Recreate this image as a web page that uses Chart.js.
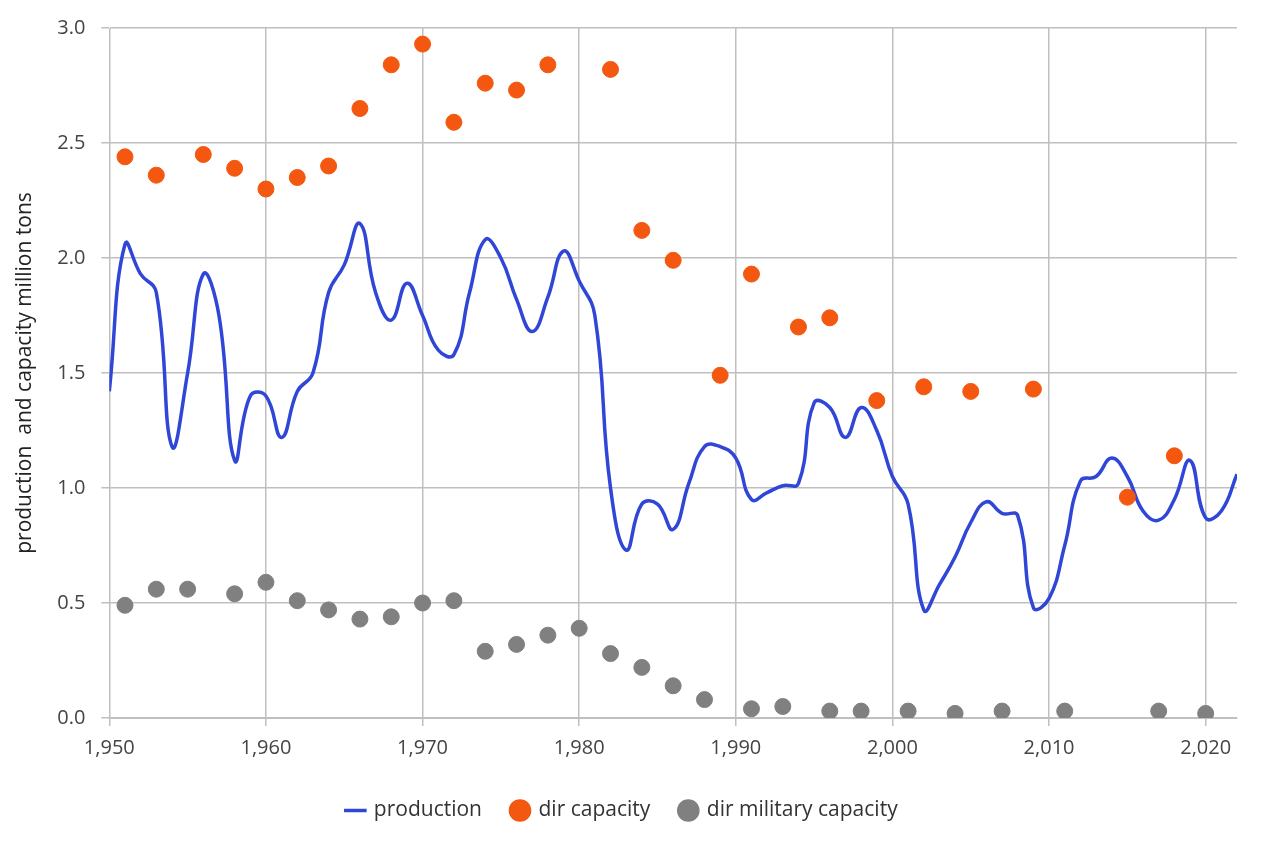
<!DOCTYPE html>
<html><head><meta charset="utf-8">
<script src="https://cdn.jsdelivr.net/npm/chart.js@4"></script>
<style>html,body{margin:0;background:#fff}#w{width:1267px;height:843px}</style>
</head><body><div id="w"><canvas id="c"></canvas></div>
<script>
const prodYears=[];for(let y=1950;y<=2022;y++)prodYears.push(y);
const production=[1.42,2.06,1.93,1.85,1.18,1.50,1.93,1.75,1.12,1.40,1.40,1.22,1.42,1.50,1.85,1.97,2.15,1.85,1.73,1.89,1.75,1.60,1.58,1.85,2.08,2.00,1.82,1.68,1.83,2.03,1.90,1.75,1.00,0.73,0.93,0.93,0.82,1.02,1.18,1.18,1.13,0.95,0.98,1.01,1.02,1.37,1.35,1.22,1.35,1.25,1.05,0.93,0.47,0.58,0.70,0.85,0.94,0.89,0.88,0.48,0.52,0.75,1.03,1.05,1.13,1.05,0.90,0.86,0.95,1.12,0.87,0.90,1.06];
const capYears=[1951,1953,1956,1958,1960,1962,1964,1966,1968,1970,1972,1974,1976,1978,1982,1984,1986,1989,1991,1994,1996,1999,2002,2005,2009,2015,2018];
const capacity=[2.44,2.36,2.45,2.39,2.30,2.35,2.40,2.65,2.84,2.93,2.59,2.76,2.73,2.84,2.82,2.12,1.99,1.49,1.93,1.70,1.74,1.38,1.44,1.42,1.43,0.96,1.14];
const milYears=[1951,1953,1955,1958,1960,1962,1964,1966,1968,1970,1972,1974,1976,1978,1980,1982,1984,1986,1988,1991,1993,1996,1998,2001,2004,2007,2011,2017,2020];
const military=[0.49,0.56,0.56,0.54,0.59,0.51,0.47,0.43,0.44,0.50,0.51,0.29,0.32,0.36,0.39,0.28,0.22,0.14,0.08,0.04,0.05,0.03,0.03,0.03,0.02,0.03,0.03,0.03,0.02];
const xTicks=[1950,1960,1970,1980,1990,2000,2010,2020];
const zip=(a,b)=>a.map((x,i)=>({x,y:b[i]}));
const F="'Open Sans', 'Liberation Sans', sans-serif";
new Chart(document.getElementById('c'),{
 type:'scatter',
 data:{datasets:[
  {label:'production',data:zip(prodYears,production),showLine:true,borderColor:'#2f46d6',backgroundColor:'#2f46d6',borderWidth:3.5,pointRadius:0,tension:0.45,order:3},
  {label:'dir capacity',data:zip(capYears,capacity),backgroundColor:'#f4570f',borderColor:'#f4570f',pointRadius:8,pointHoverRadius:8,order:1},
  {label:'dir military capacity',data:zip(milYears,military),backgroundColor:'#808080',borderColor:'#808080',pointRadius:8,pointHoverRadius:8,order:2}
 ]},
 options:{responsive:true,maintainAspectRatio:false,animation:false,
  layout:{padding:{left:8,right:30,top:14,bottom:12}},
  plugins:{tooltip:{enabled:false},legend:{position:'bottom',labels:{font:{family:F,size:21},color:'#333',boxWidth:16,boxHeight:16,padding:30,
    generateLabels:(ch)=>ch.data.datasets.map((d,i)=>({text:d.label,datasetIndex:i,fillStyle:d.backgroundColor,strokeStyle:d.borderColor,lineWidth:i==0?3.5:0,pointStyle:i==0?'line':'circle',fontColor:'#333'})),
    usePointStyle:true}}},
  scales:{
   x:{type:'linear',min:1950,max:2022,afterBuildTicks:s=>{s.ticks=xTicks.map(v=>({value:v}));},ticks:{autoSkip:false,font:{family:F,size:20},color:'#444',padding:10},grid:{color:'#bfbfbf',lineWidth:1.5},border:{color:'#bfbfbf'}},
   y:{min:0,max:3,ticks:{stepSize:0.5,font:{family:F,size:20},color:'#444',callback:v=>v.toFixed(1),padding:16},grid:{color:'#bfbfbf',lineWidth:1.5},border:{color:'#bfbfbf'},
      title:{display:true,text:'production  and capacity million tons',font:{family:F,size:21},color:'#222'}}
  }}
});
</script></body></html>
